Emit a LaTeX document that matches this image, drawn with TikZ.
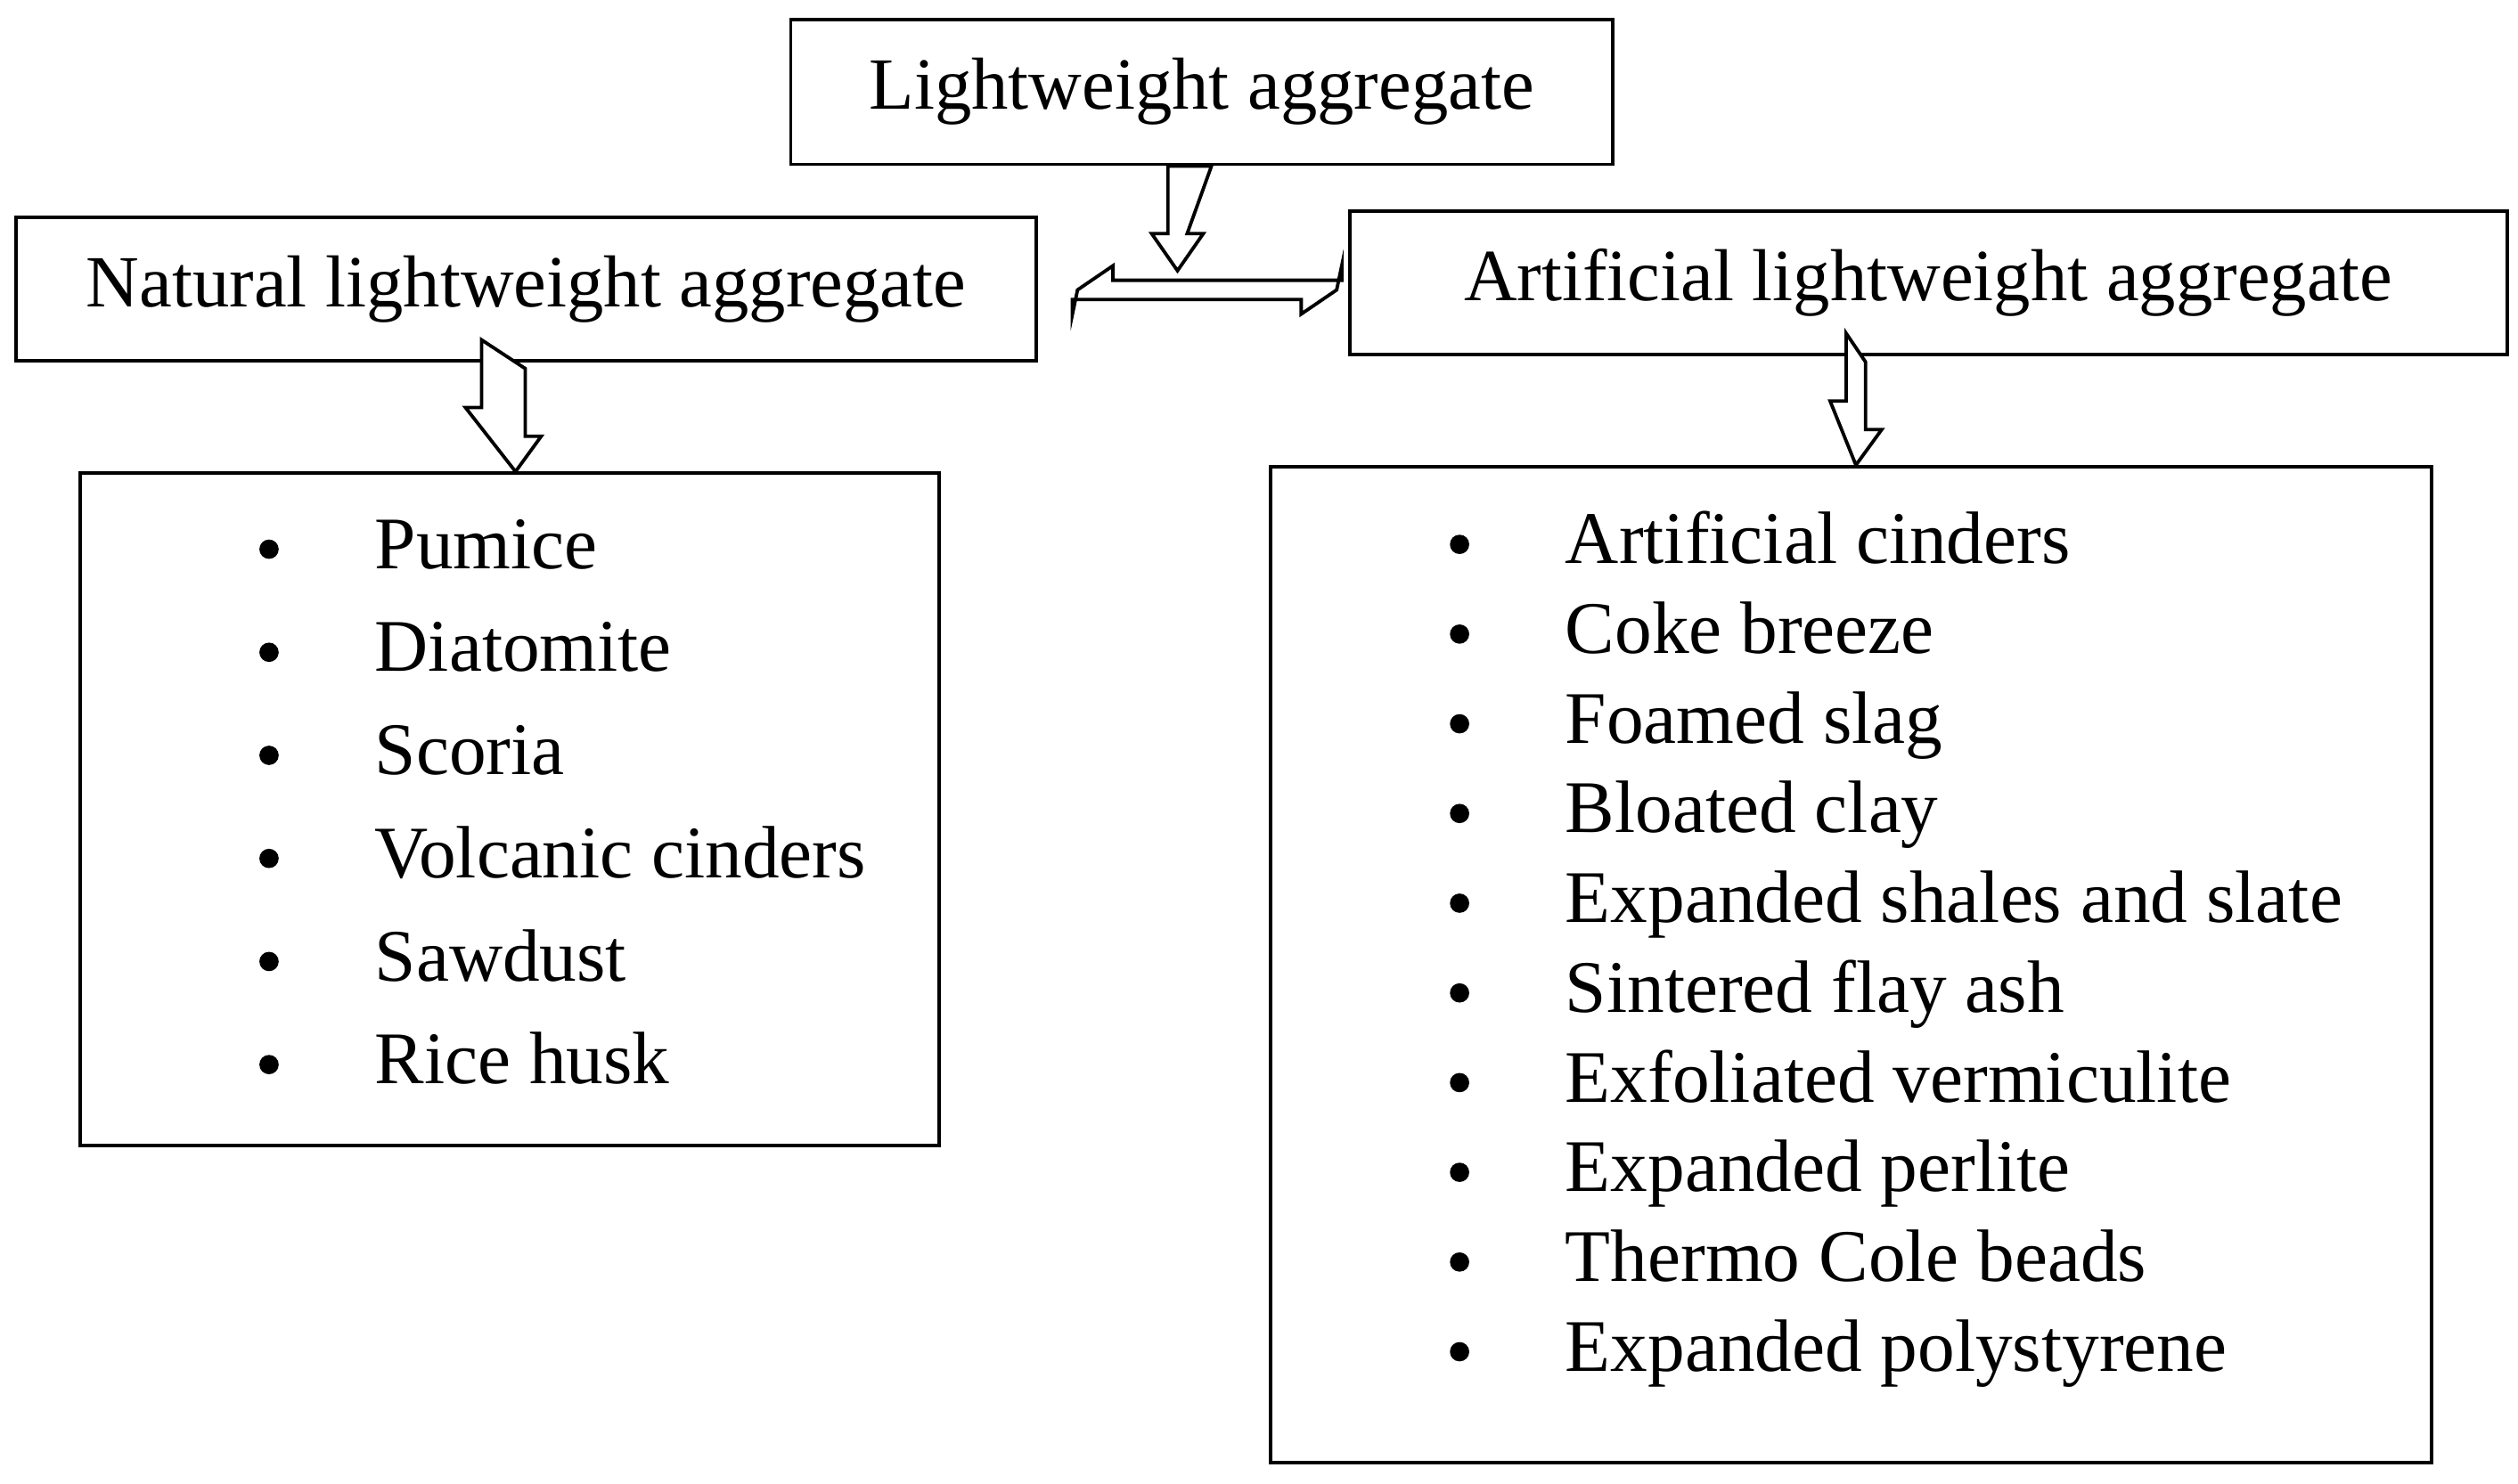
\documentclass[tikz,border=0pt]{standalone}
\usepackage{fontspec}
\setmainfont{Liberation Serif}

\tikzset{
  box/.style={draw, line width=0.6pt, inner sep=0pt, font=\fontsize{13}{15}\selectfont},
  hollow/.style={draw, line width=0.6pt, fill=white, line join=miter},
  item/.style={anchor=base west, inner sep=0pt, font=\fontsize{13.1}{15}\selectfont},
  dot/.style={circle, fill, inner sep=0pt, minimum size=1.2mm}
}

\begin{document}
\begin{tikzpicture}[x=0.01cm, y=-0.01cm]
    \useasboundingbox (0,0) rectangle (1563,921);
    % headings
    \node[box, minimum width=5.1cm, minimum height=0.9cm] (top) at (746,57) {Lightweight aggregate};
    \node[box, minimum width=6.33cm, minimum height=0.89cm] (nat) at (326.5,179.5) {Natural lightweight aggregate};
    \node[box, minimum width=7.18cm, minimum height=0.89cm] (art) at (1197,175.5) {Artificial lightweight aggregate};
    % lists
    \node[box, minimum width=5.33cm, minimum height=4.17cm] (natlist) at (316.5,502.5) {};
    \node[box, minimum width=7.2cm, minimum height=6.18cm] (artlist) at (1149,599) {};
    % hollow arrows
    \draw[hollow] ([xshift=-6]top.south) -- ++(0,42) -- ++(-10,0) -- ++(16,23)
      -- ++(16,-23) -- ++(-10,0) -- (top.south -| 752,0) -- cycle;
    \draw[hollow] ([xshift=7]nat.east |- 0,180) -- ++(22,-15) -- ++(0,9) -- ++(142,0) -- ++(0,-9)
      -- ([xshift=-2]art.west |- 0,180) -- ++(-22,15) -- ++(0,-9) -- ++(-142,0) -- ++(0,9) -- cycle;
    \draw[hollow] ([xshift=-6,yshift=4]nat.south -| 320,0) -- ++(0,42) -- ++(-10,0) -- (natlist.north -| 320,0)
      -- ++(16,-22) -- ++(-10,0) -- ++(0,-42) -- cycle;
    \draw[hollow] ([yshift=4]art.south -| 1146,0) -- ++(0,42) -- ++(-10,0) -- (artlist.north -| 1152,0)
      -- ++(16,-22) -- ++(-10,0) -- ++(0,-42) -- cycle;
    \foreach \txt [count=\i] in {Pumice, Diatomite, Scoria, Volcanic cinders, Sawdust, Rice husk}
    {
      \node[dot] (nb\i) at (167,341+64*\i-64) {};
      \node[item] (n\i) at (232,353+64*\i-64) {\txt};
    }
    \foreach \txt [count=\i] in {Artificial cinders, Coke breeze, Foamed slag, Bloated clay,
      Expanded shales and slate, Sintered flay ash, Exfoliated vermiculite,
      Expanded perlite, Thermo Cole beads, Expanded polystyrene}
    {
      \node[dot] (ab\i) at (906,338+55.7*\i-55.7) {};
      \node[item] (a\i) at (971,350+55.7*\i-55.7) {\txt};
    }
\end{tikzpicture}
\end{document}
